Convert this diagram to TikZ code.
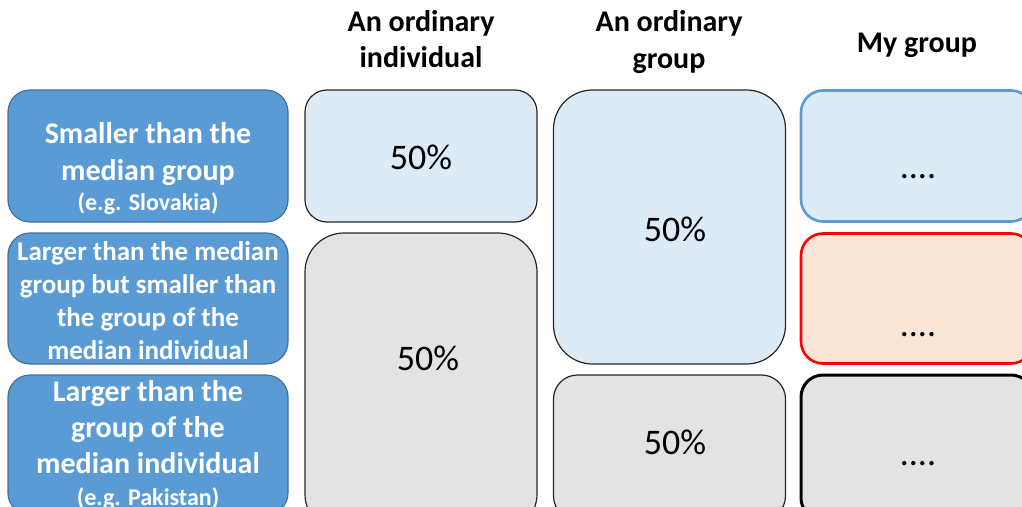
\documentclass[tikz,border=0pt]{standalone}
\usepackage{fontspec}
\setmainfont{Carlito}
\definecolor{labelfill}{HTML}{5B9BD5}
\definecolor{labelline}{HTML}{41719C}
\definecolor{paleblue}{HTML}{DDEBF7}
\definecolor{palegray}{HTML}{E3E3E3}
\definecolor{palepeach}{HTML}{FBE5D6}

\begin{document}
\begin{tikzpicture}[x=1pt,y=-1pt,every node/.style={inner sep=0pt},
				   rowlabel/.style={rectangle, rounded corners=22pt, draw=labelline, line width=1.2pt, fill=labelfill, minimum width=280pt},
				   share/.style={rectangle, draw=black!85, line width=1.2pt, minimum width=232pt},
				   mine/.style={rectangle, rounded corners=22pt, line width=2.6pt, minimum width=232pt},
				   rowtext/.style={text=white, align=center, font=\fontsize{30}{37}\selectfont\bfseries},
				   head/.style={align=center, font=\fontsize{30}{36.6}\selectfont\bfseries},
				   pct/.style={font=\fontsize{36}{40}\selectfont},
				   dots/.style={font=\fontsize{36}{40}\selectfont, anchor=base}]
\path[use as bounding box, clip] (0,0) rectangle (1022,506);

% column heads
\node[head] (headind) at (421,39) {An ordinary\\individual};
\node[head] (headgrp) at (669,42) {An ordinary\\group};
\node[head] (headmine) at (917,45) {My group};

% row labels
\node[rowlabel, minimum height=132pt] (small) at (148,156) {};
\node[rowlabel, minimum height=131pt] (middle) at (148,298.5) {};
\node[rowlabel, minimum height=140pt] (large) at (148,445) {};
\node[rowtext] (smalltext) at (148,168.5) {Smaller than the\\median group\\[-7pt]\fontsize{24}{32}\selectfont (e.g. Slovakia)};
\node[rowtext, font=\fontsize{27}{33}\selectfont\bfseries] (middletext) at (148,301) {Larger than the median\\group but smaller than\\the group of the\\median individual};
\node[rowtext, font=\fontsize{30}{36}\selectfont\bfseries] (largetext) at (148,445.5) {Larger than the\\group of the\\median individual\\[-4pt]\fontsize{24}{32}\selectfont (e.g. Pakistan)};

% an ordinary individual
\node[share, rounded corners=22pt, fill=paleblue, minimum height=132pt] (indsmall) at (421,156) {};
\node[share, rounded corners=39pt, fill=palegray, minimum height=300pt] (indlarge) at (421,383) {};
\node[pct] (indsmalltext) at (421,157) {50\%};
\node[pct] (indlargetext) at (428,358) {50\%};

% an ordinary group
\node[share, rounded corners=39pt, fill=paleblue, minimum height=274pt] (grpsmall) at (669.5,227) {};
\node[share, rounded corners=24pt, fill=palegray, minimum height=145pt] (grplarge) at (669.5,447.5) {};
\node[pct] (grpsmalltext) at (675,229) {50\%};
\node[pct] (grplargetext) at (675,442) {50\%};

% my group
\node[mine, draw=labelfill, fill=paleblue, minimum height=131pt] (minesmall) at (917,156) {};
\node[mine, draw=red, fill=palepeach, minimum height=130pt] (minemiddle) at (917,298.5) {};
\node[mine, draw=black, line width=3pt, fill=palegray, minimum height=145pt] (minelarge) at (917,447.5) {};
\node[dots] (minesmalltext) at (918,178) {....};
\node[dots] (minemiddletext) at (918,336) {....};
\node[dots] (minelargetext) at (918,465) {....};
\end{tikzpicture}
\end{document}
